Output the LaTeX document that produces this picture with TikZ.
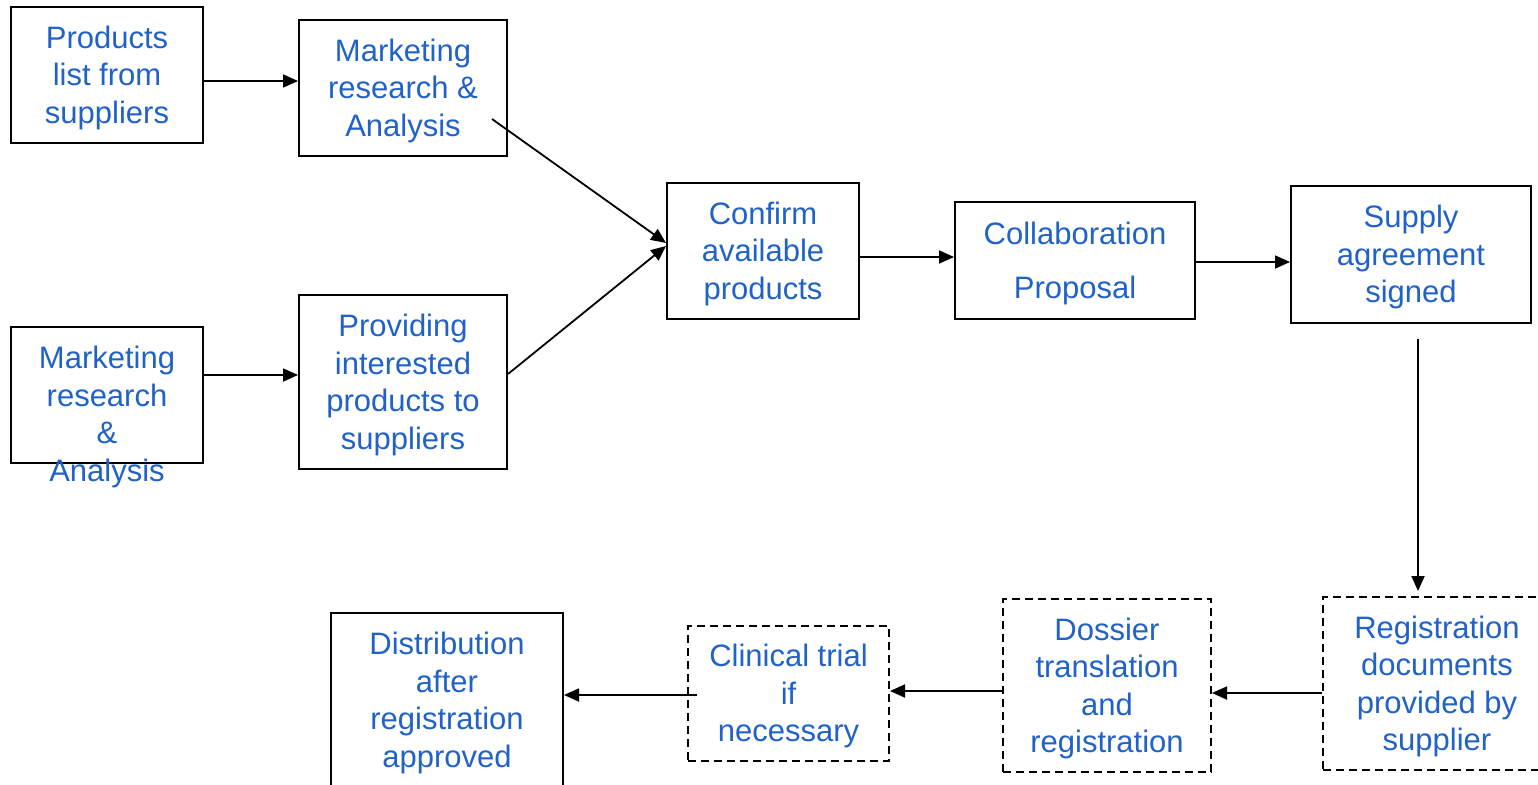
\documentclass[tikz,border=0pt]{standalone}
\usepackage{fontspec}
\setmainfont{Liberation Sans}
\usetikzlibrary{arrows.meta, positioning, calc}
\definecolor{FlowBlau}{RGB}{32,98,200}

\begin{document}
\begin{tikzpicture}[x=1pt, y=1pt,
    box/.style={draw=black, line width=2pt, align=center, text=FlowBlau, inner sep=0pt,
                text depth=0.5pt, font=\fontsize{31}{37.5}\selectfont},
    dbox/.style={box, dash pattern=on 8pt off 5pt},
    arr/.style={line width=1.8pt, -{Triangle[length=15pt, width=13pt]}}]
    \useasboundingbox (0,0) rectangle (1538,-784);
    % upper part
    \node[box, minimum width=192, minimum height=136] (prod)  at ( 107, -75) {Products\\list from\\suppliers};
    \node[box, minimum width=208, minimum height=136] (mrtop) at ( 403, -88) {Marketing\\research \&\\Analysis};
    \node[box, minimum width=192, minimum height=136] (mrlow) at ( 107,-395) {};
    \node[align=center, text=FlowBlau, inner sep=0pt, font=\fontsize{31}{37.5}\selectfont]
          (mrlowtxt) at (107,-417) {Marketing\\research\\\&\\Analysis};
    \node[box, minimum width=208, minimum height=174] (prov)  at ( 403,-382) {Providing\\interested\\products to\\suppliers};
    \node[box, minimum width=192, minimum height=136] (conf)  at ( 763,-251) {Confirm\\available\\products};
    \node[box, minimum width=240, minimum height=117] (collab) at (1075,-260.5) {Collaboration\\[17pt]Proposal};
    \node[box, minimum width=240, minimum height=137] (supply) at (1411,-254.5) {Supply\\agreement\\signed};
    % lower part
    \node[dbox, minimum width=228, minimum height=173] (reg)  at (1437,-683.5) {Registration\\documents\\provided by\\supplier};
    \node[dbox, minimum width=208, minimum height=173] (doss) at (1107,-685.5) {Dossier\\translation\\and\\registration};
    \node[dbox, minimum width=201, minimum height=135] (clin) at ( 788.5,-693.5) {Clinical trial\\if\\necessary};
    \node[box, minimum width=232, minimum height=174] (dist)  at ( 447,-700) {Distribution\\after\\registration\\approved};
    % connectors
    \draw[arr] ([yshift=-6pt]prod.east) -- ([yshift=-6pt]prod.east -| mrtop.west);
    \draw[arr] ([yshift=20pt]mrlow.east) -- ([yshift=20pt]mrlow.east -| prov.west);
    \draw[arr] ([xshift=-16pt, yshift=-31pt]mrtop.east) -- ([yshift=8pt]conf.west);
    \draw[arr] ([yshift=8pt]prov.east) -- ([yshift=5pt]conf.west);
    \draw[arr] ([yshift=-6pt]conf.east) -- ([yshift=-6pt]conf.east -| collab.west);
    \draw[arr] ([yshift=-1.5pt]collab.east) -- ([yshift=-1.5pt]collab.east -| supply.west);
    \draw[arr, shorten >=5pt] ([xshift=7pt, yshift=-15pt]supply.south) -- ([xshift=7pt]supply.south |- reg.north);
    \draw[arr] ([yshift=-9.5pt]reg.west) -- ([yshift=-9.5pt]reg.west -| doss.east);
    \draw[arr] ([yshift=-5.5pt]doss.west) -- ([yshift=-5.5pt]doss.west -| clin.east);
    \draw[arr] ([xshift=10pt, yshift=-1.5pt]clin.west) -- ([yshift=-1.5pt]clin.west -| dist.east);
\end{tikzpicture}
\end{document}
